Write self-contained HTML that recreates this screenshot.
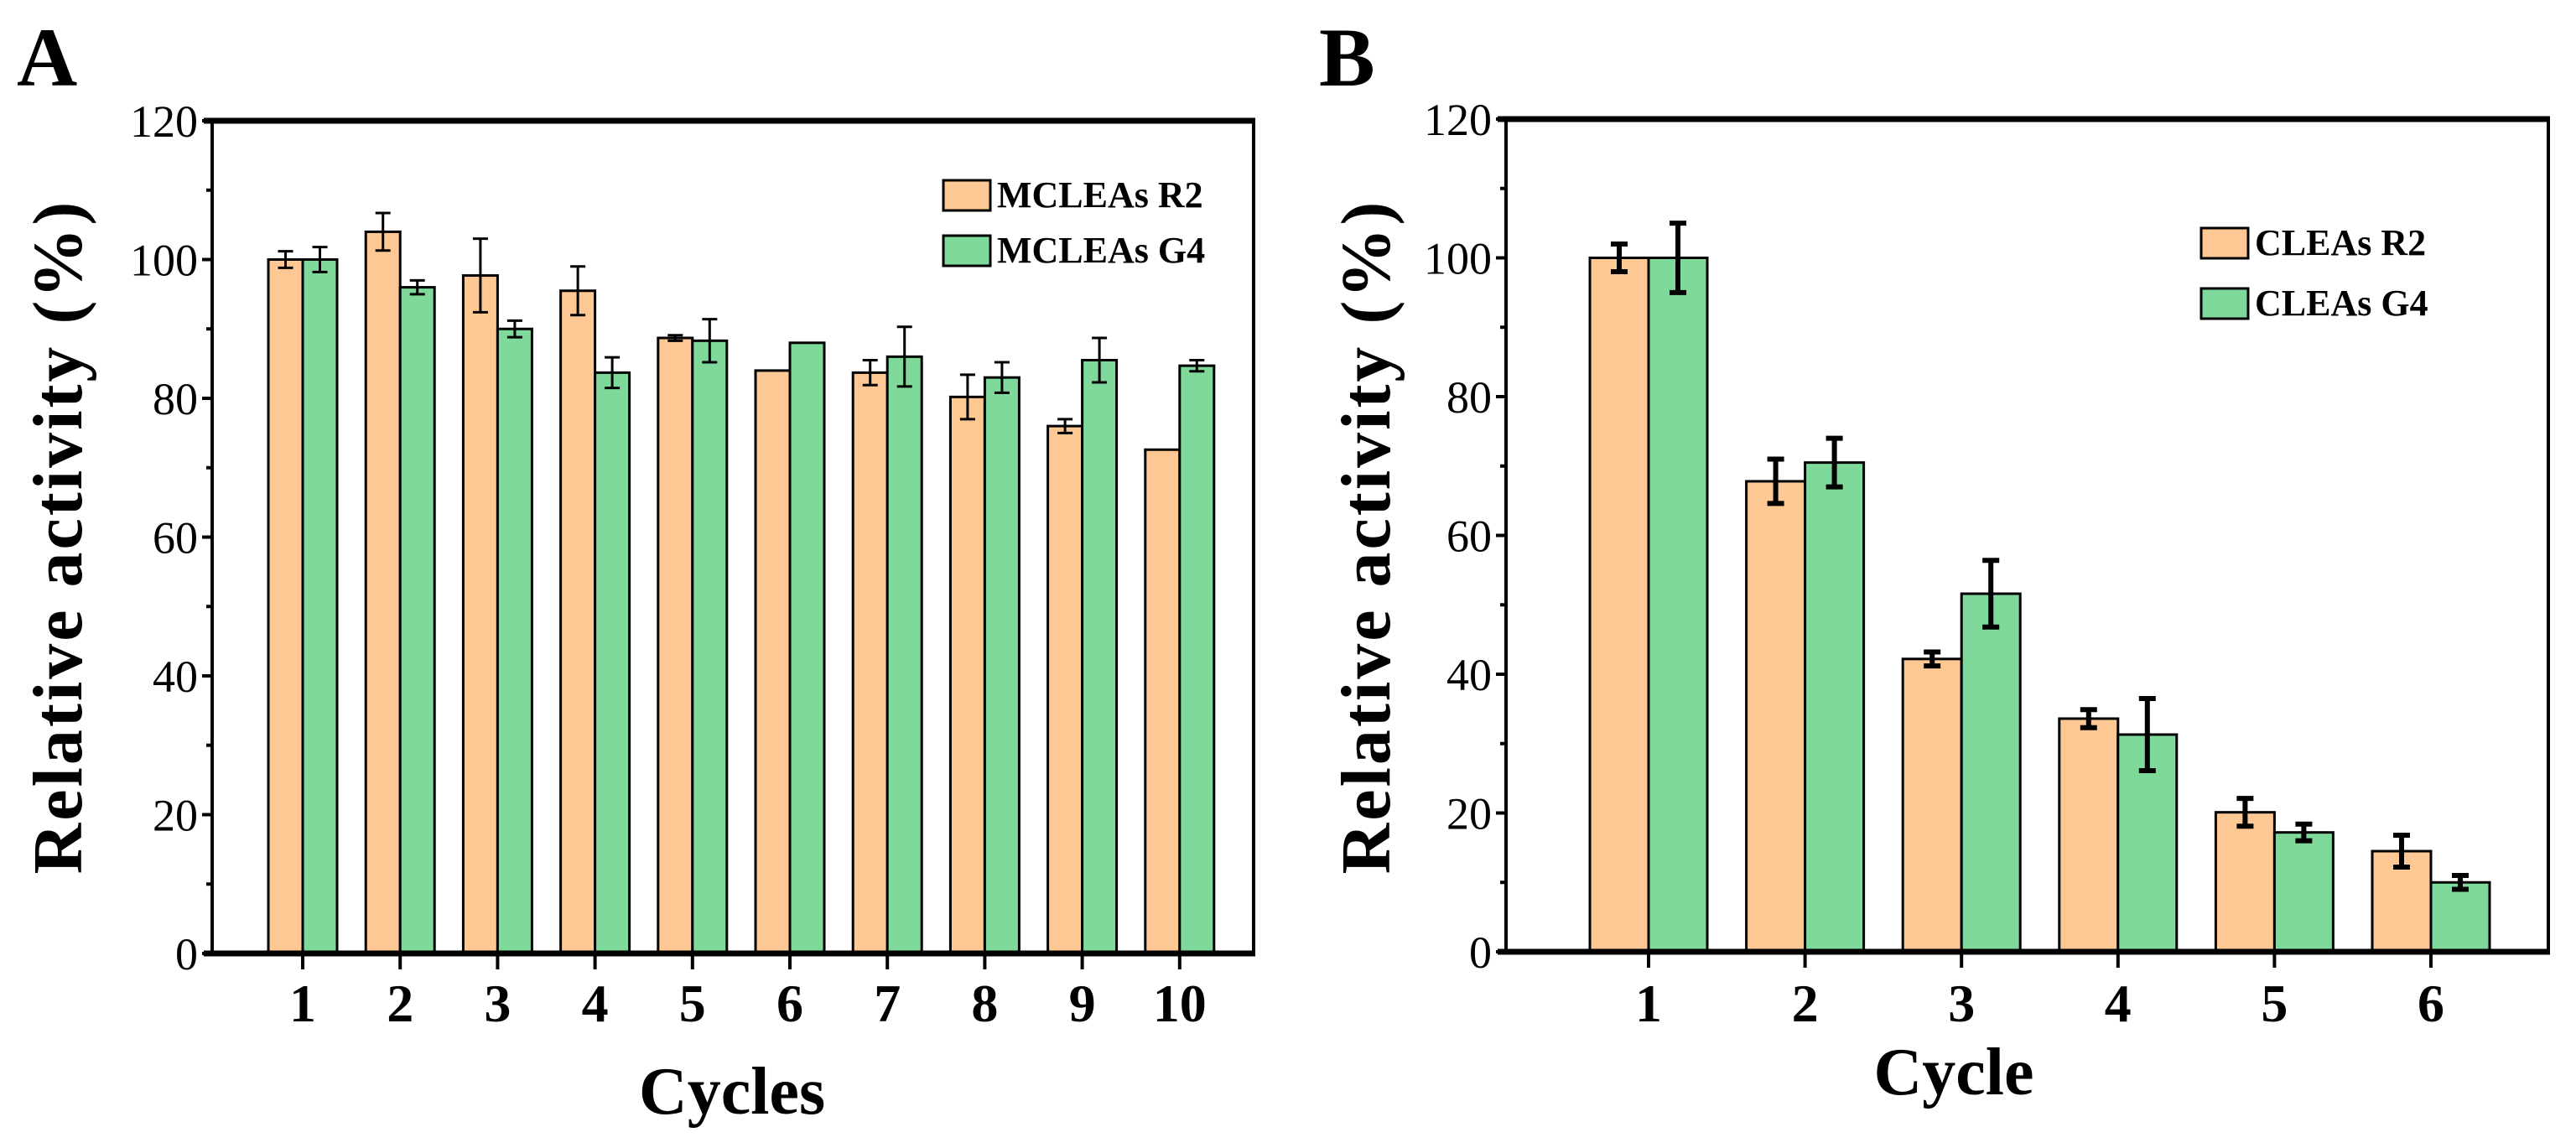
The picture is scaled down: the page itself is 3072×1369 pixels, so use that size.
<!DOCTYPE html>
<html><head><meta charset="utf-8"><style>
html,body{margin:0;padding:0;background:#fff;}
svg{display:block;font-family:"Liberation Serif",serif;}
</style></head><body>
<svg id="fig" width="3072" height="1369" viewBox="0 0 3072 1369" xmlns="http://www.w3.org/2000/svg"></svg>
<script>
// Panel A data
const catsA = ["1","2","3","4","5","6","7","8","9","10"];
const r2A = [100,104,97.7,95.5,88.7,84,83.7,80.2,76,72.6];
const r2ErrA = [1.2,2.7,5.3,3.5,0.4,0,1.8,3.2,1,0];
const g4A = [100,96,90,83.7,88.3,88,86,83,85.5,84.7];
const g4ErrA = [1.8,1,1.2,2.2,3.1,0,4.3,2.2,3.2,0.8];
// Panel B data
const catsB = ["1","2","3","4","5","6"];
const r2B = [100,67.8,42.2,33.6,20.1,14.5];
const r2ErrB = [2,3.2,1,1.3,2,2.3];
const g4B = [100,70.5,51.6,31.3,17.2,10];
const g4ErrB = [5,3.5,4.8,5.2,1.2,1];
const yTicks = [0,20,40,60,80,100,120];

const NS="http://www.w3.org/2000/svg";
const svg=document.getElementById('fig');
function mk(tag,attrs,parent,text){const e=document.createElementNS(NS,tag);for(const k in attrs)e.setAttribute(k,attrs[k]);if(text!==undefined)e.textContent=text;(parent||svg).appendChild(e);return e;}

function panel(p){
  const g=mk('g',{});
  
  
  const y=v=>p.y0-(v/120)*(p.y0-p.y1);
  const x=i=>p.firstTick+i*p.step;
  p.cats.forEach((c,i)=>{
    const xc=x(i);
    [[p.r2,p.r2e,'#fec895',-1,'r2'],[p.g4,p.g4e,'#7fd99b',0,'g4']].forEach(([vals,errs,col,off,s])=>{
      const bx=xc+off*p.bw, v=vals[i];
      const r=mk('rect',{x:bx,y:y(v),width:p.bw,height:p.y0-y(v),fill:col,stroke:'#000','stroke-width':3},g);
      
      
      if(errs[i]>0){
        const cx=bx+p.bw/2, hi=y(v+errs[i]), lo=y(v-errs[i]);
        const e=mk('path',{d:`M${cx},${hi}V${lo}M${cx-p.cap},${hi}H${cx+p.cap}M${cx-p.cap},${lo}H${cx+p.cap}`,stroke:'#000','stroke-width':p.ew,fill:'none'},g);
        
        
      }
    });
    mk('line',{x1:xc,x2:xc,y1:p.y0,y2:p.y0+19,stroke:'#000','stroke-width':4},g);
    const tl=mk('text',{x:xc,y:1218,'text-anchor':'middle','font-size':64,'font-weight':'bold'},g,c);
    
    
  });
  yTicks.forEach(v=>{
    mk('line',{x1:p.x0-12,x2:p.x0,y1:y(v),y2:y(v),stroke:'#000','stroke-width':4},g);
    if(v<120) mk('line',{x1:p.x0-7,x2:p.x0,y1:y(v+10),y2:y(v+10),stroke:'#000','stroke-width':4},g);
    const t=mk('text',{x:p.x0-17,y:y(v)+19,'text-anchor':'end','font-size':54},g,String(v));
    
    
  });
  mk('line',{x1:p.x0,x2:p.x0,y1:p.y1,y2:p.y0,stroke:'#000','stroke-width':4},g);
  mk('line',{x1:p.x2,x2:p.x2,y1:p.y1,y2:p.y0,stroke:'#000','stroke-width':4},g);
  const xa=mk('line',{x1:p.x0-10,x2:p.x2+2,y1:p.y0,y2:p.y0,stroke:'#000','stroke-width':7},g);
  
  mk('line',{x1:p.x0-10,x2:p.x2+2,y1:p.y1,y2:p.y1,stroke:'#000','stroke-width':7},g);
  const xt=mk('text',{x:p.xtX,y:p.xtY,'text-anchor':'middle','font-size':80,'font-weight':'bold'},g,p.xt);
  
  const yt=mk('text',{x:0,y:0,transform:`translate(${p.ytX},640) rotate(-90)`,'text-anchor':'middle','font-size':84,'font-weight':'bold','letter-spacing':3},g,'Relative activity (%)');
  
  const pl=mk('text',{x:p.plX,y:102,'font-size':100,'font-weight':'bold'},g,p.pl);
  
  p.leg.forEach((L,i)=>{
    const lg=mk('g',{},g);
    
    
    mk('rect',{x:p.lx,y:L.y,width:56,height:36,fill:L.c,stroke:'#000','stroke-width':3},lg);
    mk('text',{x:p.lx+64,y:L.y+32,'font-size':44,'font-weight':'bold'},lg,L.t);
  });
}
panel({name:'panel-a',cats:catsA,r2:r2A,r2e:r2ErrA,g4:g4A,g4e:g4ErrA,x0:253,x2:1495,y0:1137,y1:144,
  firstTick:361,step:116.2,bw:41,cap:9,ew:3,xt:'Cycles',xtX:873,xtY:1328,ytX:97,plX:20,pl:'A',
  lx:1125,leg:[{y:215,c:'#fec895',t:'MCLEAs R2'},{y:281,c:'#7fd99b',t:'MCLEAs G4'}]});
panel({name:'panel-b',cats:catsB,r2:r2B,r2e:r2ErrB,g4:g4B,g4e:g4ErrB,x0:1796,x2:3039,y0:1135,y1:142,
  firstTick:1966,step:186.6,bw:70,cap:10,ew:6,xt:'Cycle',xtX:2330,xtY:1305,ytX:1657,plX:1573,pl:'B',
  lx:2625,leg:[{y:272,c:'#fec895',t:'CLEAs R2'},{y:344,c:'#7fd99b',t:'CLEAs G4'}]});
</script>
</body></html>
